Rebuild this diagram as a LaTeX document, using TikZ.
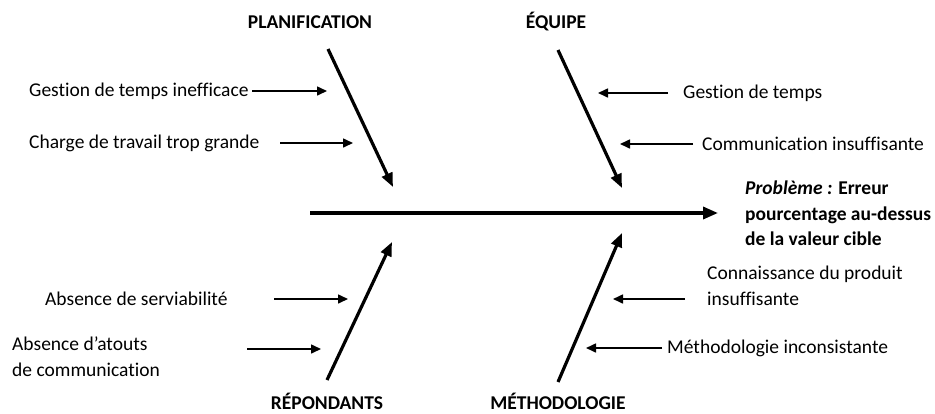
\documentclass[tikz,border=0pt]{standalone}
\usepackage{fontspec}
\setmainfont[Ligatures=NoCommon]{Carlito}
\usetikzlibrary{arrows.meta}
\begin{document}
\begin{tikzpicture}[x=1pt,y=-1pt,
  cause/.style={font=\fontsize{19.5}{25.5}\selectfont, inner sep=0pt, anchor=west, align=left},
  category/.style={font=\fontsize{19.5}{22}\selectfont\bfseries, inner sep=0pt, anchor=base},
  bone/.style={line width=3.2pt, -{Triangle[length=14pt,width=11pt]}},
  spine/.style={line width=3.4pt, -{Triangle[length=15pt,width=12pt]}},
  twig/.style={line width=1.6pt, -{Triangle[length=10pt,width=9pt]}}]
\useasboundingbox (0,0) rectangle (935,413);

% category headings
\node[category] (plan) at (310,28) {PLANIFICATION};
\node[category] (equipe) at (556,28) {ÉQUIPE};
\node[category] (repond) at (327,409) {RÉPONDANTS};
\node[category] (metho) at (558,409) {MÉTHODOLOGIE};

% spine and main bones
\coordinate (tail) at (310,213);
\coordinate (head) at (718,213);
\draw[spine] (tail) -- (head);

\coordinate (p1) at (328,49);  \coordinate (p2) at (393,187);
\coordinate (e1) at (558,50);  \coordinate (e2) at (622,188);
\coordinate (r1) at (327,380); \coordinate (r2) at (392,242);
\coordinate (m1) at (558,382); \coordinate (m2) at (622,233);
\draw[bone] (p1) -- (p2);
\draw[bone] (e1) -- (e2);
\draw[bone] (r1) -- (r2);
\draw[bone] (m1) -- (m2);

% causes, left side
\node[cause] (c1) at (29,91) {Gestion de temps inefficace};
\coordinate (c1a) at (252,91); \coordinate (c1b) at (327,91);
\draw[twig] (c1a) -- (c1b);

\node[cause] (c2) at (29,143) {Charge de travail trop grande};
\coordinate (c2a) at (280,143); \coordinate (c2b) at (353,143);
\draw[twig] (c2a) -- (c2b);

\node[cause] (c3) at (45,299) {Absence de serviabilité};
\coordinate (c3a) at (274,299); \coordinate (c3b) at (348,299);
\draw[twig] (c3a) -- (c3b);

\node[cause, anchor=north west] (c4) at (12,337) {Absence d’atouts\\de communication};
\coordinate (c4a) at (247,349); \coordinate (c4b) at (321,349);
\draw[twig] (c4a) -- (c4b);

% causes, right side
\node[cause] (c5) at (683,93) {Gestion de temps};
\coordinate (c5a) at (668,93); \coordinate (c5b) at (598,93);
\draw[twig] (c5a) -- (c5b);

\node[cause] (c6) at (702,144) {Communication insuffisante};
\coordinate (c6a) at (693,144); \coordinate (c6b) at (620,144);
\draw[twig] (c6a) -- (c6b);

\node[cause, anchor=north west] (c7) at (707,266) {Connaissance du produit\\insuffisante};
\coordinate (c7a) at (685,299); \coordinate (c7b) at (613,299);
\draw[twig] (c7a) -- (c7b);

\node[cause] (c8) at (667,348) {Méthodologie inconsistante};
\coordinate (c8a) at (662,348); \coordinate (c8b) at (586,348);
\draw[twig] (c8a) -- (c8b);

% problem statement, cut off at the bottom of its box
\begin{scope}
  \clip (735,170) rectangle (935,246);
  \node[cause, anchor=north west, font=\fontsize{19.5}{25.5}\selectfont\bfseries] (prob) at (745,181)
    {\textit{Problème :} Erreur\\pourcentage au-dessus\\de la valeur cible};
\end{scope}
\end{tikzpicture}
\end{document}
